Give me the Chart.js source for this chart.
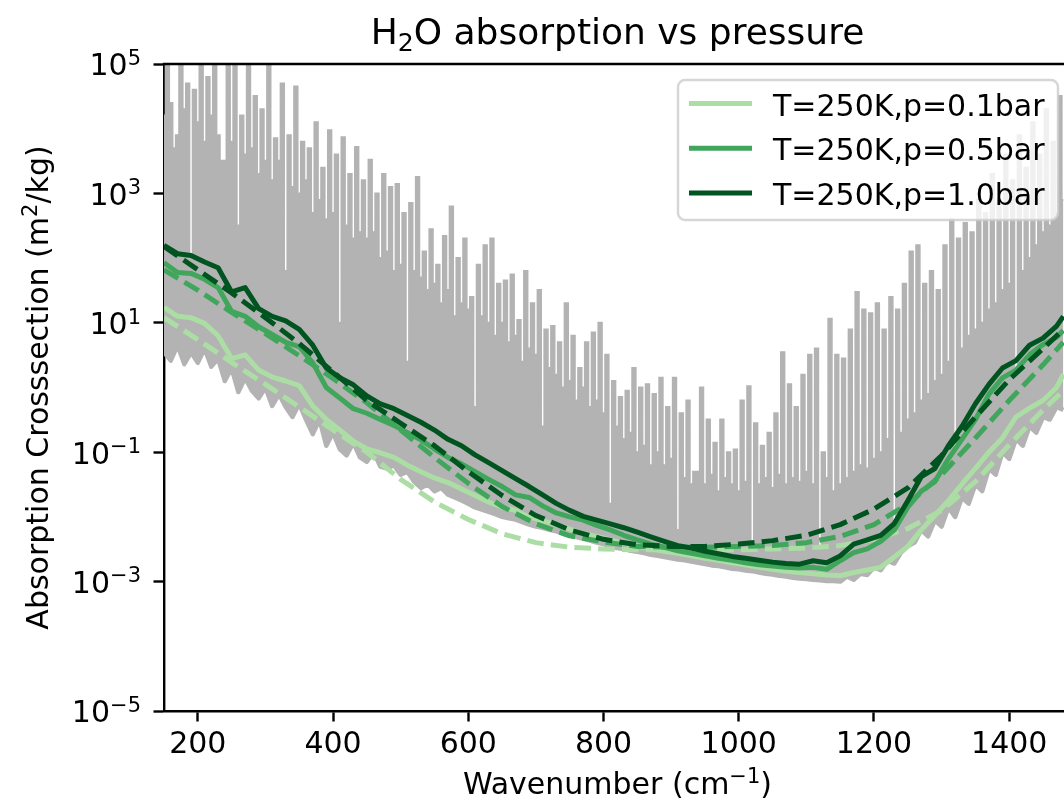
<!DOCTYPE html>
<html>
<head>
<meta charset="utf-8">
<script src="https://cdn.jsdelivr.net/npm/chart.js@4.4.1/dist/chart.umd.min.js"></script>
<style>
  html, body { margin: 0; padding: 0; background: #fff; }
  #wrap { width: 1064px; height: 805px; }
</style>
</head>
<body>
<div id="wrap"><canvas id="chart" width="1064" height="805"></canvas></div>
<script>
// ---- data (wavenumber in cm^-1, cross-section in m^2/kg) ----

// line-by-line spectrum, read on a 10 cm^-1 grid:
// grayLow = bottom edge of the grey band, grayFloor = level between the strong lines
const grayWave = [150,160,170,180,190,200,210,220,230,240,250,260,270,280,290,300,310,320,330,340,
  350,360,370,380,390,400,410,420,430,440,450,460,470,480,490,500,510,520,530,540,
  550,560,570,580,590,600,610,620,630,640,650,660,670,680,690,700,710,720,730,740,
  750,760,770,780,790,800,810,820,830,840,850,860,870,880,890,900,910,920,930,940,
  950,960,970,980,990,1000,1010,1020,1030,1040,1050,1060,1070,1080,1090,1100,1110,1120,1130,1140,
  1150,1160,1170,1180,1190,1200,1210,1220,1230,1240,1250,1260,1270,1280,1290,1300,1310,1320,1330,1340,
  1350,1360,1370,1380,1390,1400,1410,1420,1430,1440,1450,1460,1470,1480];
const grayLow = [3.5,2.6,4.5,2.3,3.5,2.4,4,2.1,2.8,1.26,
  2,0.85,1.41,0.89,0.68,1,0.52,0.79,0.5,0.35,
  0.56,0.32,0.19,0.32,0.126,0.2,0.112,0.089,0.14,0.083,
  0.071,0.1,0.06,0.056,0.063,0.045,0.05,0.035,0.028,0.032,
  0.025,0.028,0.022,0.02,0.018,0.016,0.014,0.013,0.012,0.011,
  0.01,9.5e-3,9.1e-3,8.3e-3,7.6e-3,7.1e-3,6.8e-3,6.3e-3,6e-3,5.5e-3,
  5.2e-3,4.9e-3,4.6e-3,4.3e-3,4e-3,3.8e-3,3.5e-3,3.3e-3,3.2e-3,3e-3,
  2.9e-3,2.75e-3,2.6e-3,2.5e-3,2.4e-3,2.3e-3,2.2e-3,2.14e-3,2.04e-3,1.95e-3,
  1.86e-3,1.78e-3,1.74e-3,1.66e-3,1.58e-3,1.55e-3,1.48e-3,1.45e-3,1.38e-3,1.32e-3,
  1.29e-3,1.23e-3,1.2e-3,1.15e-3,1.12e-3,1.1e-3,1.07e-3,1.05e-3,1.02e-3,1.02e-3,
  1e-3,1.2e-3,1.07e-3,1.32e-3,1.26e-3,1.66e-3,1.5e-3,2.1e-3,1.9e-3,2.8e-3,
  3.5e-3,4e-3,6.3e-3,5e-3,8.9e-3,7.1e-3,0.014,0.01,0.02,0.016,
  0.032,0.025,0.056,0.045,0.1,0.079,0.16,0.126,0.25,0.2,
  0.35,0.32,0.5,0.45];
const grayFloor = [1.6e4,2.5e4,7900,2e4,100,1.26e4,6300,1.6e4,7900,3200,
  6300,320,4000,5000,2000,3200,1600,3200,63,1260,
  1000,1600,500,790,400,500,10,320,200,250,
  200,250,100,126,63,79,2.5,63,50,32,
  40,20,32,12.6,20,16,0.5,12.6,10,6.3,
  10,5,6.3,2.5,4,3.2,0.25,2,1.58,1,
  1.26,0.63,1,0.5,0.63,0.4,0.016,0.25,0.16,0.2,
  0.1,0.126,0.063,0.1,0.063,0.079,6.3e-3,0.04,0.032,0.05,
  0.032,0.045,0.025,0.04,0.032,0.025,0.035,4e-3,0.032,0.04,
  0.028,0.045,0.032,0.04,0.035,0.05,0.032,3.2e-3,0.04,0.025,
  0.032,0.04,0.05,0.063,0.056,0.079,0.1,0.16,6.3e-3,0.2,
  0.32,0.4,0.63,0.79,1.26,1.58,2.5,0.1,4,6.3,
  7.9,10,16,20,32,40,2,63,100,158,
  250,320,500,790];
// line peaks between the grid points
const grayPeakWave = [155,165,175,185,195,205,215,225,235,245,255,265,275,285,295,305,315,325,335,345,
  355,365,375,385,395,405,415,425,435,445,455,465,475,485,495,505,515,525,535,545,
  555,565,575,585,595,605,615,625,635,645,655,665,675,685,695,705,715,725,735,745,
  755,765,775,785,795,805,815,825,835,845,855,865,875,885,895,905,915,925,935,945,
  955,965,975,985,995,1005,1015,1025,1035,1045,1055,1065,1075,1085,1095,1105,1115,1125,1135,1145,
  1155,1165,1175,1185,1195,1205,1215,1225,1235,1245,1255,1265,1275,1285,1295,1305,1315,1325,1335,1345,
  1355,1365,1375,1385,1395,1405,1415,1425,1435,1445,1455,1465,1475];
const grayPeak = [2e5,5000,2e5,5e4,4e4,2e5,6.3e4,2e5,3200,2e5,
  2e5,1.6e4,2e5,3.2e4,2e4,2e5,7100,5e4,7900,4.5e4,
  6300,5000,1.26e4,2500,9500,4000,7400,2000,5200,1600,
  3300,1000,2000,1260,1400,500,710,1800,126,280,
  79,220,630,100,200,25,79,158,200,40,
  45,56,11,63,20,32,7.9,8.9,5,20,
  6.3,2,5,7.1,10,3.2,1.26,0.71,0.89,2,
  1,1.12,0.79,1.41,0.5,1.41,0.4,0.63,0.05,1,
  0.32,0.14,0.32,0.1,0.11,0.63,1.05,0.28,0.126,0.2,
  0.4,3.5,1.12,0.5,1.58,3.2,4,0.1,11.5,3.2,
  2.8,7.9,30,16,14,20,7.9,25,16,40,
  126,158,40,63,32,158,400,200,350,250,
  790,500,2000,790,4000,1600,7900,2500,1.26e4,4000,
  2e4,6300,3.2e4];

// smoothed cross-sections (solid lines)
const smoothWave = [150,170,190,210,230,250,270,290,310,330,350,370,390,410,430,450,470,490,510,530,
  550,570,590,610,630,650,670,690,710,730,750,770,790,810,830,850,870,890,910,930,
  950,970,990,1010,1030,1050,1070,1090,1110,1130,1150,1170,1190,1210,1230,1250,1270,1290,1310,1330,
  1350,1370,1390,1410,1430,1450,1470,1480];
const smoothP01 = [17.4,12.6,12,9.8,6.3,2.8,3.2,1.86,1.45,1.26,
  1.07,0.52,0.32,0.22,0.148,0.112,0.098,0.083,0.063,0.05,
  0.04,0.034,0.027,0.0214,0.017,0.0141,0.0126,0.01,8.7e-3,7.6e-3,
  6.5e-3,5.5e-3,5.0e-3,4.4e-3,3.9e-3,3.5e-3,3.2e-3,2.95e-3,2.75e-3,2.5e-3,
  2.3e-3,2.14e-3,1.95e-3,1.82e-3,1.66e-3,1.55e-3,1.45e-3,1.38e-3,1.32e-3,1.26e-3,
  1.23e-3,1.38e-3,1.51e-3,1.66e-3,2.4e-3,3.5e-3,6.3e-3,0.0105,0.0178,0.032,
  0.056,0.1,0.166,0.35,0.48,0.63,1.0,1.6];
const smoothP05 = [85,60,58,47,35,15,12.6,8.7,6.6,5.0,
  4.3,2.4,1.0,0.69,0.47,0.4,0.32,0.26,0.2,0.155,
  0.112,0.083,0.066,0.05,0.038,0.0295,0.0219,0.02,0.0148,0.0115,
  0.01,8.9e-3,7.4e-3,6.3e-3,5.2e-3,4.4e-3,3.8e-3,3.4e-3,3.0e-3,2.75e-3,
  2.5e-3,2.3e-3,2.14e-3,1.95e-3,1.82e-3,1.74e-3,1.66e-3,1.62e-3,1.66e-3,1.55e-3,
  2.1e-3,2.8e-3,3.2e-3,4.2e-3,6.3e-3,0.0141,0.025,0.035,0.079,0.158,
  0.32,0.79,1.41,1.86,3.2,4.6,6.0,7.6];
const smoothP10 = [158,117,110,87,71,30,35,16.6,12.6,10.7,
  7.9,4.5,2.0,1.41,1.1,0.74,0.56,0.47,0.37,0.29,
  0.22,0.158,0.126,0.091,0.069,0.052,0.039,0.0295,0.0219,0.0162,
  0.0126,0.0102,8.9e-3,7.8e-3,6.8e-3,5.8e-3,4.9e-3,4.2e-3,3.6e-3,3.3e-3,
  2.95e-3,2.7e-3,2.45e-3,2.3e-3,2.14e-3,2.0e-3,1.9e-3,1.86e-3,2.1e-3,1.95e-3,
  2.5e-3,3.8e-3,4.4e-3,5.2e-3,7.9e-3,0.0178,0.042,0.056,0.126,0.25,
  0.56,1.12,2.0,2.6,4.5,5.8,8.9,12.6];

// fitted curves (dashed lines)
const fitWave = [150,200,250,300,350,400,450,500,550,600,650,700,750,800,850,900,950,1000,1050,1100,
  1150,1200,1250,1300,1350,1400,1450,1480];
const fitP01 = [12,5.5,2.45,1.12,0.5,0.22,0.1,0.038,0.017,9.1e-3,
  5.5e-3,4.0e-3,3.4e-3,3.2e-3,3.1e-3,3.1e-3,3.1e-3,3.1e-3,3.2e-3,3.3e-3,
  3.6e-3,4.5e-3,6.6e-3,0.0126,0.035,0.13,0.45,0.89];
const fitP05 = [66,32,14.5,6.8,3.1,1.38,0.58,0.22,0.083,0.033,
  0.0145,7.8e-3,5.1e-3,4.1e-3,3.5e-3,3.4e-3,3.4e-3,3.5e-3,3.6e-3,4.0e-3,
  5.0e-3,7.6e-3,0.0158,0.045,0.166,0.63,2.24,5.0];
const fitP10 = [151,66,29,12,4.8,1.74,0.63,0.28,0.126,0.05,
  0.0214,0.0105,6.3e-3,4.5e-3,3.7e-3,3.5e-3,3.5e-3,3.8e-3,4.3e-3,5.2e-3,
  7.6e-3,0.0132,0.028,0.089,0.35,1.32,4.0,7.9];

const seriesLabels = ['T=250K,p=0.1bar', 'T=250K,p=0.5bar', 'T=250K,p=1.0bar'];
const seriesColors = ['#acdda5', '#40a65b', '#00541f'];

const xTicks = [200, 400, 600, 800, 1000, 1200, 1400];
const yTicks = [1e-5, 1e-3, 1e-1, 1e1, 1e3, 1e5];
const yTickExponents = ['\u22125', '\u22123', '\u22121', '1', '3', '5'];

// text pieces: [text, size factor, baseline shift]
const titleParts = [['H', 1, 0], ['2', 0.7, 7], ['O absorption vs pressure', 1, 0]];
const xTitleParts = [['Wavenumber (cm', 1, 0], ['\u22121', 0.7, -11], [')', 1, 0]];
const yTitleParts = [['Absorption Crosssection (m', 1, 0], ['2', 0.7, -11], ['/kg)', 1, 0]];

// ---- chart ----
const FONT = 'DejaVu Sans';
const GREY = '#b3b3b3';

function pts(xs, ys) {
  return xs.map((x, i) => ({ x: x, y: ys[i] }));
}

// spectrum: floor, peak, floor, peak ...
const spikePoints = [];
for (let i = 0; i < grayWave.length; i++) {
  spikePoints.push({ x: grayWave[i], y: grayFloor[i] });
  if (i < grayPeakWave.length) spikePoints.push({ x: grayPeakWave[i], y: grayPeak[i] });
}

function line(label, data, color, order, dashed, width) {
  return {
    label: label,
    data: data,
    borderColor: color,
    borderWidth: width || 5,
    borderDash: dashed ? [16.6, 7.2] : [],
    borderJoinStyle: 'round',
    pointRadius: 0,
    fill: false,
    tension: 0,
    clip: 0,
    order: order
  };
}

const spikes = line('line-by-line', spikePoints, GREY, 10, false, 2);
spikes.stepped = 'middle';
spikes.borderJoinStyle = 'miter';
spikes.fill = '+1';
spikes.backgroundColor = GREY;

const datasets = [
  line(seriesLabels[2] + ' fit', pts(fitWave, fitP10), seriesColors[2], 1, true),
  line(seriesLabels[2], pts(smoothWave, smoothP10), seriesColors[2], 2, false),
  line(seriesLabels[1] + ' fit', pts(fitWave, fitP05), seriesColors[1], 3, true),
  line(seriesLabels[1], pts(smoothWave, smoothP05), seriesColors[1], 4, false),
  line(seriesLabels[0] + ' fit', pts(fitWave, fitP01), seriesColors[0], 5, true),
  line(seriesLabels[0], pts(smoothWave, smoothP01), seriesColors[0], 6, false),
  spikes,
  line('line-by-line low', pts(grayWave, grayLow), GREY, 11, false, 4.5)
];

function roundedBox(ctx, x, y, w, h, r) {
  ctx.beginPath();
  ctx.moveTo(x + r, y);
  ctx.arcTo(x + w, y, x + w, y + h, r);
  ctx.arcTo(x + w, y + h, x, y + h, r);
  ctx.arcTo(x, y + h, x, y, r);
  ctx.arcTo(x, y, x + w, y, r);
  ctx.closePath();
}

// text with super/subscripts, centred or right aligned on x
function richText(ctx, parts, size, x, y, align) {
  let total = 0;
  const widths = parts.map(p => {
    ctx.font = (size * p[1]) + 'px "' + FONT + '"';
    const w = ctx.measureText(p[0]).width;
    total += w;
    return w;
  });
  let cx = align === 'right' ? x - total : x - total / 2;
  ctx.textAlign = 'left';
  ctx.textBaseline = 'alphabetic';
  parts.forEach((p, i) => {
    ctx.font = (size * p[1]) + 'px "' + FONT + '"';
    ctx.fillText(p[0], cx, y + p[2]);
    cx += widths[i];
  });
}

// matplotlib-like frame, legend and texts
const decorations = {
  id: 'decorations',
  afterDatasetsDraw(chart) {
    const ctx = chart.ctx;
    const a = chart.chartArea;
    ctx.save();
    ctx.strokeStyle = '#000';
    ctx.lineWidth = 2.4;
    ctx.beginPath();
    ctx.moveTo(a.left - 1.2, a.top);
    ctx.lineTo(a.right, a.top);
    ctx.stroke();

    const bx = a.left + 514, by = a.top + 16, bw = 380, bh = 140;
    roundedBox(ctx, bx, by, bw, bh, 7);
    ctx.fillStyle = 'rgba(255,255,255,0.8)';
    ctx.fill();
    ctx.strokeStyle = 'rgba(204,204,204,0.8)';
    ctx.lineWidth = 2.4;
    ctx.stroke();

    ctx.font = '30px "' + FONT + '"';
    ctx.textAlign = 'left';
    ctx.textBaseline = 'alphabetic';
    seriesLabels.forEach((lab, i) => {
      const y = by + 23.5 + 44.7 * i;
      ctx.strokeStyle = seriesColors[i];
      ctx.lineWidth = 5;
      ctx.beginPath();
      ctx.moveTo(bx + 11, y);
      ctx.lineTo(bx + 74, y);
      ctx.stroke();
      ctx.fillStyle = '#000';
      ctx.fillText(lab, bx + 95, y + 12);
    });
    ctx.restore();
  },
  afterDraw(chart) {
    const ctx = chart.ctx;
    const a = chart.chartArea;
    const yScale = chart.scales.y;
    const cx = (a.left + a.right + 7) / 2;
    ctx.save();
    ctx.fillStyle = '#000';
    richText(ctx, titleParts, 36, cx, 44, 'center');
    richText(ctx, xTitleParts, 30, cx, 794, 'center');

    yTicks.forEach((v, i) => {
      const py = yScale.getPixelForValue(v);
      richText(ctx, [['10', 1, 11.3], [yTickExponents[i], 0.7, 0.7]], 30, a.left - 23, py, 'right');
    });

    ctx.translate(48, (a.top + a.bottom) / 2);
    ctx.rotate(-Math.PI / 2);
    richText(ctx, yTitleParts, 30, 0, 0, 'center');
    ctx.restore();
  }
};

new Chart(document.getElementById('chart').getContext('2d'), {
  type: 'line',
  data: { datasets: datasets },
  options: {
    responsive: false,
    animation: false,
    devicePixelRatio: 1,
    events: [],
    layout: { padding: { top: 64, left: 0, right: 0, bottom: 0 } },
    plugins: {
      legend: { display: false },
      tooltip: { enabled: false },
      title: { display: false },
      filler: { propagate: false }
    },
    scales: {
      x: {
        type: 'linear',
        min: 150,
        max: 1481,
        afterBuildTicks: s => { s.ticks = xTicks.map(v => ({ value: v })); },
        afterFit: s => { s.height = 94; },
        ticks: { font: { family: FONT, size: 30 }, color: '#000', padding: 6, maxRotation: 0,
                 autoSkip: false, callback: v => String(v) },
        grid: { display: true, drawOnChartArea: false, drawTicks: true, tickLength: 10.5,
                tickWidth: 2.4, tickColor: '#000' },
        border: { display: true, color: '#000', width: 2.4 }
      },
      y: {
        type: 'logarithmic',
        min: 1e-5,
        max: 1e5,
        afterBuildTicks: s => { s.ticks = yTicks.map(v => ({ value: v })); },
        afterFit: s => { s.width = 164; },
        ticks: { display: false },
        grid: { display: true, drawOnChartArea: false, drawTicks: true, tickLength: 10.5,
                tickWidth: 2.4, tickColor: '#000' },
        border: { display: true, color: '#000', width: 2.4 }
      }
    }
  },
  plugins: [decorations]
});
</script>
</body>
</html>
